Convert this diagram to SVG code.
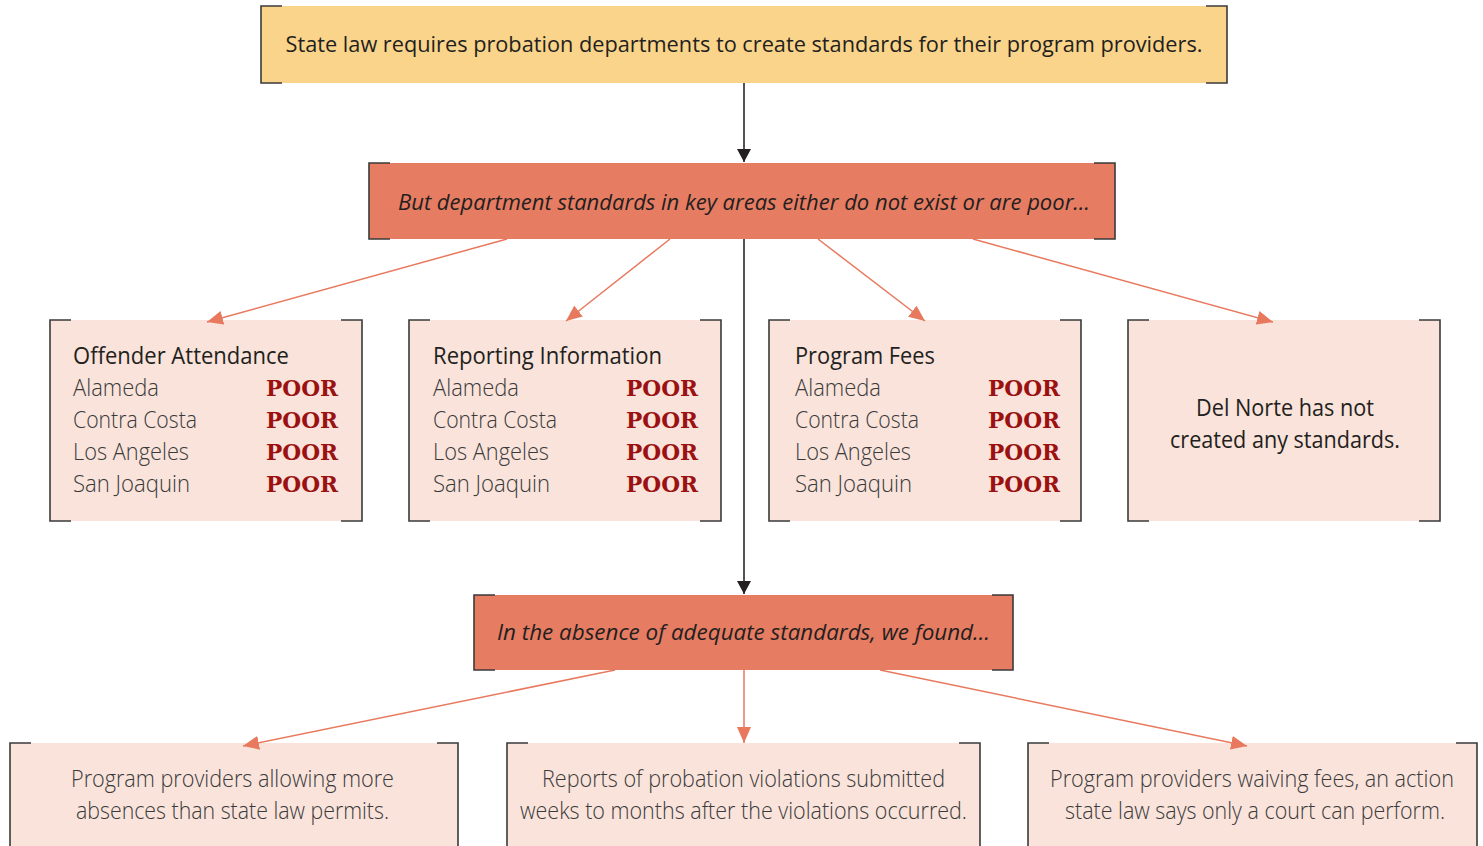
<svg xmlns="http://www.w3.org/2000/svg" width="1483" height="846" viewBox="0 0 1483 846">
<style>
.br{fill:none;stroke:#3a3a3a;stroke-width:1.6}
.yel{fill:#FAD48A}
.org{fill:#E67C62}
.pnk{fill:#F9E3DA}
.t{font-family:"Open Sans","Noto Sans","Liberation Sans",sans-serif;fill:#231f20}
.h{font-size:22.5px}
.it{font-size:22.5px;font-style:italic}
.ti{font-size:23px}
.lt{font-size:23px;font-weight:300;fill:#3a3a3a}
.poor{font-family:"DejaVu Serif","Liberation Serif",serif;font-weight:bold;font-size:22px;fill:#9B1111}
.blk{fill:none;stroke:#2a2a2a;stroke-width:1.6}
.oc{fill:none;stroke:#E8795E;stroke-width:1.5}
</style>
<defs>
<marker id="ab" markerUnits="userSpaceOnUse" markerWidth="16" markerHeight="14" refX="13" refY="7" orient="auto">
<path d="M0,0 L13,7 L0,14 z" fill="#231f20"/>
</marker>
<marker id="ao" markerUnits="userSpaceOnUse" markerWidth="18" markerHeight="14" refX="16" refY="7" orient="auto">
<path d="M0,0 L16,7 L0,14 z" fill="#E8795E"/>
</marker>
</defs>
<rect width="1483" height="846" fill="#ffffff"/>

<g id="top">
<rect class="yel" x="261" y="6" width="966" height="77"/>
<path class="br" d="M282,6 H261 V83 H282 M1206,6 H1227 V83 H1206"/>
<text class="t h" x="744" y="52" text-anchor="middle" textLength="917" lengthAdjust="spacingAndGlyphs">State law requires probation departments to create standards for their program providers.</text>
</g>

<g id="poor-standards">
<rect class="org" x="369" y="163" width="746" height="76"/>
<path class="br" d="M390,163 H369 V239 H390 M1094,163 H1115 V239 H1094"/>
<text class="t it" x="744" y="210" text-anchor="middle" textLength="692" lengthAdjust="spacingAndGlyphs">But department standards in key areas either do not exist or are poor…</text>
</g>

<g id="offender-attendance">
<rect class="pnk" x="50" y="320" width="312" height="201"/>
<path class="br" d="M71,320 H50 V521 H71 M341,320 H362 V521 H341"/>
<text class="t ti" x="73" y="364" textLength="216" lengthAdjust="spacingAndGlyphs">Offender Attendance</text>
<text class="t lt" x="73" y="396" textLength="86" lengthAdjust="spacingAndGlyphs">Alameda</text>
<text class="t lt" x="73" y="428" textLength="124" lengthAdjust="spacingAndGlyphs">Contra Costa</text>
<text class="t lt" x="73" y="460" textLength="116" lengthAdjust="spacingAndGlyphs">Los Angeles</text>
<text class="t lt" x="73" y="492" textLength="117" lengthAdjust="spacingAndGlyphs">San Joaquin</text>
<text class="poor" x="338" y="396" text-anchor="end" textLength="72" lengthAdjust="spacingAndGlyphs">POOR</text>
<text class="poor" x="338" y="428" text-anchor="end" textLength="72" lengthAdjust="spacingAndGlyphs">POOR</text>
<text class="poor" x="338" y="460" text-anchor="end" textLength="72" lengthAdjust="spacingAndGlyphs">POOR</text>
<text class="poor" x="338" y="492" text-anchor="end" textLength="72" lengthAdjust="spacingAndGlyphs">POOR</text>
</g>

<g id="reporting-information">
<rect class="pnk" x="409" y="320" width="312" height="201"/>
<path class="br" d="M430,320 H409 V521 H430 M700,320 H721 V521 H700"/>
<text class="t ti" x="433" y="364" textLength="229" lengthAdjust="spacingAndGlyphs">Reporting Information</text>
<text class="t lt" x="433" y="396" textLength="86" lengthAdjust="spacingAndGlyphs">Alameda</text>
<text class="t lt" x="433" y="428" textLength="124" lengthAdjust="spacingAndGlyphs">Contra Costa</text>
<text class="t lt" x="433" y="460" textLength="116" lengthAdjust="spacingAndGlyphs">Los Angeles</text>
<text class="t lt" x="433" y="492" textLength="117" lengthAdjust="spacingAndGlyphs">San Joaquin</text>
<text class="poor" x="698" y="396" text-anchor="end" textLength="72" lengthAdjust="spacingAndGlyphs">POOR</text>
<text class="poor" x="698" y="428" text-anchor="end" textLength="72" lengthAdjust="spacingAndGlyphs">POOR</text>
<text class="poor" x="698" y="460" text-anchor="end" textLength="72" lengthAdjust="spacingAndGlyphs">POOR</text>
<text class="poor" x="698" y="492" text-anchor="end" textLength="72" lengthAdjust="spacingAndGlyphs">POOR</text>
</g>

<g id="program-fees">
<rect class="pnk" x="769" y="320" width="312" height="201"/>
<path class="br" d="M790,320 H769 V521 H790 M1060,320 H1081 V521 H1060"/>
<text class="t ti" x="795" y="364" textLength="140" lengthAdjust="spacingAndGlyphs">Program Fees</text>
<text class="t lt" x="795" y="396" textLength="86" lengthAdjust="spacingAndGlyphs">Alameda</text>
<text class="t lt" x="795" y="428" textLength="124" lengthAdjust="spacingAndGlyphs">Contra Costa</text>
<text class="t lt" x="795" y="460" textLength="116" lengthAdjust="spacingAndGlyphs">Los Angeles</text>
<text class="t lt" x="795" y="492" textLength="117" lengthAdjust="spacingAndGlyphs">San Joaquin</text>
<text class="poor" x="1060" y="396" text-anchor="end" textLength="72" lengthAdjust="spacingAndGlyphs">POOR</text>
<text class="poor" x="1060" y="428" text-anchor="end" textLength="72" lengthAdjust="spacingAndGlyphs">POOR</text>
<text class="poor" x="1060" y="460" text-anchor="end" textLength="72" lengthAdjust="spacingAndGlyphs">POOR</text>
<text class="poor" x="1060" y="492" text-anchor="end" textLength="72" lengthAdjust="spacingAndGlyphs">POOR</text>
</g>

<g id="del-norte">
<rect class="pnk" x="1128" y="320" width="312" height="201"/>
<path class="br" d="M1149,320 H1128 V521 H1149 M1419,320 H1440 V521 H1419"/>
<text class="t ti" x="1285" y="416" text-anchor="middle" textLength="178" lengthAdjust="spacingAndGlyphs">Del Norte has not</text>
<text class="t ti" x="1285" y="448" text-anchor="middle" textLength="230" lengthAdjust="spacingAndGlyphs">created any standards.</text>
</g>

<g id="we-found">
<rect class="org" x="474" y="595" width="539" height="75"/>
<path class="br" d="M495,595 H474 V670 H495 M992,595 H1013 V670 H992"/>
<text class="t it" x="743.5" y="640" text-anchor="middle" textLength="493" lengthAdjust="spacingAndGlyphs">In the absence of adequate standards, we found…</text>
</g>

<g id="absences">
<rect class="pnk" x="10" y="743" width="448" height="110"/>
<path class="br" d="M31,743 H10 V853 M437,743 H458 V853"/>
<text class="t lt" x="232.5" y="787" text-anchor="middle" textLength="323" lengthAdjust="spacingAndGlyphs">Program providers allowing more</text>
<text class="t lt" x="232.5" y="819" text-anchor="middle" textLength="313" lengthAdjust="spacingAndGlyphs">absences than state law permits.</text>
</g>

<g id="late-reports">
<rect class="pnk" x="507" y="743" width="473" height="110"/>
<path class="br" d="M528,743 H507 V853 M959,743 H980 V853"/>
<text class="t lt" x="743.5" y="787" text-anchor="middle" textLength="403" lengthAdjust="spacingAndGlyphs">Reports of probation violations submitted</text>
<text class="t lt" x="743.5" y="819" text-anchor="middle" textLength="447" lengthAdjust="spacingAndGlyphs">weeks to months after the violations occurred.</text>
</g>

<g id="waiving-fees">
<rect class="pnk" x="1028" y="743" width="449" height="110"/>
<path class="br" d="M1049,743 H1028 V853 M1456,743 H1477 V853"/>
<text class="t lt" x="1252" y="787" text-anchor="middle" textLength="404" lengthAdjust="spacingAndGlyphs">Program providers waiving fees, an action</text>
<text class="t lt" x="1255" y="819" text-anchor="middle" textLength="380" lengthAdjust="spacingAndGlyphs">state law says only a court can perform.</text>
</g>

<g id="connectors">
<line class="blk" x1="744" y1="83" x2="744" y2="162" marker-end="url(#ab)"/>
<line class="blk" x1="744" y1="239" x2="744" y2="594" marker-end="url(#ab)"/>
<line class="oc" x1="507" y1="239" x2="207" y2="322" marker-end="url(#ao)"/>
<line class="oc" x1="670" y1="239" x2="566" y2="321" marker-end="url(#ao)"/>
<line class="oc" x1="818" y1="239" x2="925" y2="321" marker-end="url(#ao)"/>
<line class="oc" x1="973" y1="239" x2="1273" y2="322" marker-end="url(#ao)"/>
<line class="oc" x1="615" y1="670" x2="243" y2="746" marker-end="url(#ao)"/>
<line class="oc" x1="744" y1="670" x2="744" y2="743" marker-end="url(#ao)"/>
<line class="oc" x1="880" y1="670" x2="1247" y2="746" marker-end="url(#ao)"/>
</g>
</svg>
